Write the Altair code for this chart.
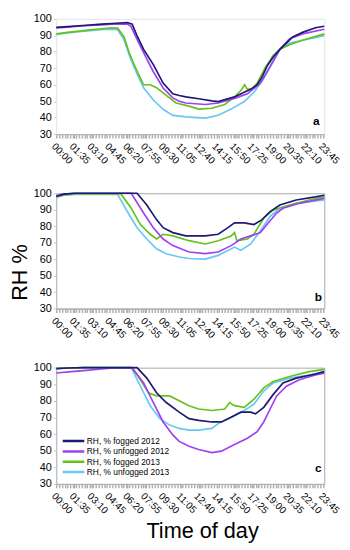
import altair as alt
import pandas as pd

SERIES = ["RH, % fogged 2012", "RH, % unfogged 2012", "RH, % fogged 2013", "RH, % unfogged 2013"]
COLORS = ["#1c1a74", "#a040f0", "#66c21a", "#66c8f5"]

# ---- panel a ----
a_fog12_t = [0, 60, 120, 180, 240, 300, 379, 405, 430, 466, 518, 570, 622, 656, 691, 760, 830, 864, 951, 1003, 1037, 1072, 1098, 1124, 1158, 1193, 1228, 1262, 1314, 1383, 1430]
a_fog12_v = [94.8, 95.3, 95.8, 96.3, 96.8, 97.2, 97.8, 96.8, 90, 81.5, 72.2, 61, 54.5, 53.5, 52.6, 51.5, 50.2, 49.8, 52.6, 55.4, 57.2, 60, 64.7, 71.2, 76.9, 81.5, 85.3, 89, 91.8, 94.6, 95.5]
a_unf12_t = [0, 60, 120, 180, 240, 300, 379, 398, 425, 466, 518, 570, 622, 656, 691, 795, 864, 951, 1020, 1089, 1141, 1193, 1245, 1314, 1430]
a_unf12_v = [94.5, 95, 95.5, 96, 96.4, 96.8, 97, 95.5, 89, 79.5, 67.9, 58, 52, 50, 48.9, 48, 48.9, 51.7, 54.5, 61, 71.2, 81.5, 88, 90.9, 93.7]
a_fog13_t = [0, 60, 120, 180, 240, 293, 327, 362, 388, 423, 466, 501, 535, 587, 639, 708, 760, 830, 899, 951, 985, 1005, 1020, 1045, 1072, 1115, 1158, 1193, 1245, 1314, 1430]
a_fog13_v = [90.9, 91.8, 92.6, 93.3, 94, 94.6, 94.4, 89, 79.7, 70.3, 60, 60, 58.2, 53.5, 48.9, 47, 45.2, 45.7, 48, 52.6, 56.5, 60, 57.2, 57.5, 61, 70.4, 77.9, 81.5, 84.3, 87, 90.9]
a_unf13_t = [0, 60, 120, 180, 240, 293, 327, 362, 396, 431, 466, 518, 570, 622, 691, 795, 864, 933, 1003, 1055, 1107, 1158, 1193, 1245, 1314, 1430]
a_unf13_v = [90.6, 91.4, 92.2, 92.9, 93.4, 93.8, 93.5, 87.1, 75.9, 66.6, 58.2, 50.7, 45.1, 41.4, 40.5, 39.7, 41.5, 45.2, 49.8, 55.4, 63.8, 74, 81.5, 85.3, 87, 89.8]

# ---- panel b ----
b_fog12_t = [0, 40, 100, 431, 483, 535, 570, 622, 691, 795, 864, 916, 951, 1003, 1055, 1098, 1141, 1193, 1280, 1383, 1430]
b_fog12_v = [98.2, 99.5, 100, 100, 92.9, 84, 79.1, 76.1, 74.1, 74.1, 75.1, 79.1, 82, 82, 81, 84, 88.9, 92.9, 95.9, 97.8, 98.8]
b_unf12_t = [0, 40, 100, 400, 466, 518, 570, 622, 708, 795, 864, 933, 985, 1037, 1089, 1124, 1176, 1210, 1297, 1430]
b_unf12_v = [98.5, 99.5, 100, 100, 88, 79.1, 72.2, 68.2, 64.3, 63.3, 64.3, 68.2, 72.2, 74.1, 76.1, 81, 88, 90.9, 93.9, 96.9]
b_fog13_t = [0, 40, 100, 345, 400, 449, 501, 535, 570, 622, 708, 795, 864, 933, 951, 964, 1020, 1055, 1107, 1158, 1245, 1349, 1430]
b_fog13_v = [97.8, 99, 99.6, 99.6, 90.9, 81, 75.1, 72.2, 75.1, 74.1, 71.2, 69.2, 71.2, 74.1, 76.1, 71.2, 72.2, 75.1, 85, 89.9, 92.9, 95.9, 97.8]
b_unf13_t = [0, 40, 100, 327, 379, 431, 483, 535, 587, 656, 708, 795, 864, 916, 951, 985, 1037, 1089, 1141, 1193, 1280, 1430]
b_unf13_v = [97.5, 98.8, 99.3, 99.3, 88.9, 79.1, 72.2, 66.3, 63.3, 61.3, 60.4, 60, 62.3, 65.3, 67.3, 65.3, 69.2, 77.1, 86, 90.9, 93.9, 95.9]

# ---- panel c ----
c_fog12_t = [0, 60, 150, 431, 483, 535, 587, 656, 708, 760, 830, 881, 933, 985, 1037, 1063, 1107, 1158, 1210, 1280, 1383, 1430]
c_fog12_v = [99.4, 99.8, 100, 100, 93.7, 84.9, 79, 73.2, 69.3, 68.3, 67.3, 67.3, 70.2, 73.2, 73.2, 72.2, 76.1, 83.9, 90.8, 93.7, 96.2, 97.6]
c_unf12_t = [0, 80, 160, 240, 300, 405, 466, 518, 570, 622, 656, 708, 760, 830, 881, 951, 1020, 1072, 1107, 1141, 1176, 1228, 1297, 1383, 1430]
c_unf12_v = [96.8, 97.6, 98.4, 99.2, 99.8, 99.8, 90.8, 79, 67.3, 59.5, 55.6, 52.7, 50.7, 48.8, 49.7, 53.7, 57.5, 61.4, 67.3, 75.1, 83, 88.8, 92.7, 95.6, 96.6]
c_fog13_t = [0, 60, 150, 405, 449, 492, 535, 605, 656, 708, 760, 830, 899, 925, 951, 1003, 1055, 1107, 1158, 1245, 1349, 1430]
c_fog13_v = [99.6, 99.8, 100, 100, 92.7, 84.9, 83, 83, 80, 77.1, 75.1, 74.2, 75.1, 79, 77.1, 76.1, 81, 87.8, 91.7, 94.7, 97.6, 99]
c_unf13_t = [0, 60, 150, 400, 449, 501, 553, 605, 656, 708, 760, 830, 864, 933, 1003, 1055, 1107, 1158, 1245, 1349, 1430]
c_unf13_v = [99.5, 99.7, 100, 100, 88.8, 77.1, 69.3, 65.4, 63.4, 62.4, 62.4, 63.4, 66.3, 70.2, 74.2, 78, 85.9, 90.8, 93.7, 95.6, 97.6]

PANELS = {
    "a": [(a_fog12_t, a_fog12_v), (a_unf12_t, a_unf12_v), (a_fog13_t, a_fog13_v), (a_unf13_t, a_unf13_v)],
    "b": [(b_fog12_t, b_fog12_v), (b_unf12_t, b_unf12_v), (b_fog13_t, b_fog13_v), (b_unf13_t, b_unf13_v)],
    "c": [(c_fog12_t, c_fog12_v), (c_unf12_t, c_unf12_v), (c_fog13_t, c_fog13_v), (c_unf13_t, c_unf13_v)],
}

LABEL_STEP = 95
TICK_VALUES = sorted(set(list(range(0, 1431, 15)) + list(range(0, 1431, LABEL_STEP))))
LABEL_EXPR = ("datum.value % 95 == 0 ? ((floor(datum.value/60) < 10 ? '0' : '') + floor(datum.value/60) + ':' + "
              "(datum.value % 60 < 10 ? '0' : '') + (datum.value % 60)) : ''")

W = 272


def make_panel(key, height, label_xy, view_stroke, y_title=None, x_title=None, legend=False):
    rows = []
    order = [3, 2, 1, 0]
    for i in order:
        ts, vs = PANELS[key][i]
        for t, v in zip(ts, vs):
            rows.append({"t": t, "rh": v, "series": SERIES[i], "o": order.index(i)})
    df = pd.DataFrame(rows)

    xaxis = dict(values=TICK_VALUES, labelExpr=LABEL_EXPR, labelAngle=45, labelAlign="left",
                 labelBaseline="top", labelOverlap=False, labelFontSize=10, labelPadding=3,
                 tickSize=4, tickColor="#b0b0b0", tickWidth=1.5, domainColor="#b0b0b0",
                 domainWidth=1, grid=False, labelColor="#000000")
    if x_title:
        xaxis.update(title=x_title, titleFontSize=22, titleFontWeight="normal", titlePadding=6,
                     titleColor="#000000", titleX=148)
    else:
        xaxis.update(title=None)

    yaxis = dict(values=[30, 40, 50, 60, 70, 80, 90, 100], grid=False, domain=False, tickSize=3,
                 tickColor="#c8c8c8", labelFontSize=11, labelPadding=2, labelColor="#000000")
    if y_title:
        yaxis.update(title=y_title, titleFontSize=22, titleFontWeight="normal", titleColor="#000000",
                     titleY=80, titlePadding=2)
    else:
        yaxis.update(title=None)

    if legend:
        leg = alt.Legend(orient="none", legendX=5, legendY=70, title=None, symbolType="stroke",
                         symbolStrokeWidth=2.5, symbolSize=480, clipHeight=9, labelFontSize=8.5,
                         labelOffset=1, rowPadding=1.5, labelColor="#000000", padding=0)
    else:
        leg = None

    lines = alt.Chart(df).mark_line(strokeWidth=1.7).encode(
        x=alt.X("t:Q", scale=alt.Scale(domain=[0, 1430], nice=False, zero=False), axis=alt.Axis(**xaxis)),
        y=alt.Y("rh:Q", scale=alt.Scale(domain=[30, 100], nice=False, zero=False), axis=alt.Axis(**yaxis)),
        color=alt.Color("series:N", scale=alt.Scale(domain=SERIES, range=COLORS), legend=leg),
        order=alt.Order("o:Q"),
    )
    txt = alt.Chart(pd.DataFrame({"lab": [key]})).mark_text(
        fontWeight="bold", fontSize=12, align="center", baseline="middle", color="#000000"
    ).encode(x=alt.value(label_xy[0]), y=alt.value(label_xy[1]), text="lab:N")
    return alt.layer(lines, txt).properties(width=W, height=height,
                                            view=alt.ViewBackground(stroke=view_stroke))


pa = make_panel("a", 117, (264, 104), "#e4e4e4")
pb = make_panel("b", 117, (266, 105), "#a8a8a8", y_title="RH %")
pc = make_panel("c", 118, (266, 102), "#a8a8a8", x_title="Time of day", legend=True)

chart = alt.vconcat(pa, pb, pc, spacing=20).resolve_scale(color="independent").resolve_legend(
    color="independent"
).properties(padding={"left": 0, "top": 0, "right": 0, "bottom": 0}).configure(
    font="Liberation Sans"
)

chart.save("out.html", embed_options={"renderer": "svg", "actions": False})
